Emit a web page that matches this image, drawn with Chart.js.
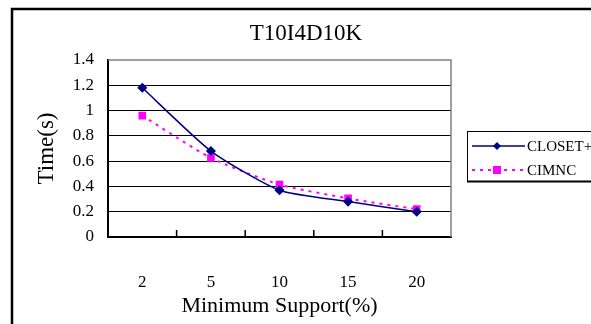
<!DOCTYPE html>
<html>
<head>
<meta charset="utf-8">
<script src="https://cdn.jsdelivr.net/npm/chart.js@4/dist/chart.umd.min.js"></script>
<style>
  html, body { margin: 0; padding: 0; background: #fff; }
  canvas { display: block; }
</style>
</head>
<body>
<canvas id="chart" width="591" height="324"></canvas>
<script>
// data
const supportLabels = ["2", "5", "10", "15", "20"];
const closetTimes = [1.18, 0.68, 0.37, 0.28, 0.2];
const cimncTimes = [0.96, 0.625, 0.415, 0.305, 0.22];
const seriesNames = ["CLOSET+", "CIMNC"];

const SERIF = "'Liberation Serif', 'DejaVu Serif', serif";

// frame, plot border, inner ticks, title and boxed legend
const decorPlugin = {
  id: "decor",
  afterDraw(chart) {
    const ctx = chart.ctx;
    const area = chart.chartArea;
    const x = chart.scales.x;
    ctx.save();

    // outer frame (runs off the right and bottom edges)
    ctx.strokeStyle = "#000";
    ctx.lineWidth = 2.5;
    ctx.strokeRect(12, 9, 620, 340);

    // grey top + right edge of the plot
    ctx.strokeStyle = "#808080";
    ctx.lineWidth = 1.5;
    ctx.beginPath();
    ctx.moveTo(area.left, area.top);
    ctx.lineTo(area.right, area.top);
    ctx.lineTo(area.right, area.bottom);
    ctx.stroke();

    // small ticks between categories, pointing up into the plot
    ctx.strokeStyle = "#000";
    ctx.lineWidth = 1.5;
    ctx.beginPath();
    for (let i = 0; i < supportLabels.length - 1; i++) {
      const px = (x.getPixelForValue(i) + x.getPixelForValue(i + 1)) / 2;
      ctx.moveTo(px, area.bottom);
      ctx.lineTo(px, area.bottom - 7);
    }
    ctx.stroke();

    // title
    ctx.fillStyle = "#000";
    ctx.font = "23px " + SERIF;
    ctx.textAlign = "center";
    ctx.textBaseline = "middle";
    ctx.fillText("T10I4D10K", 306, 34);

    // legend box
    const lx = 467, ly = 131, lw = 130, lh = 50;
    ctx.fillStyle = "#fff";
    ctx.fillRect(lx, ly, lw, lh);
    ctx.strokeStyle = "#000";
    ctx.lineWidth = 1;
    ctx.strokeRect(lx + 0.5, ly + 0.5, lw, lh);
    ctx.lineWidth = 2;
    ctx.beginPath();
    ctx.moveTo(lx, ly + lh + 0.5);
    ctx.lineTo(lx + lw, ly + lh + 0.5);
    ctx.stroke();

    chart.data.datasets.forEach((ds, i) => {
      const ry = [146, 170][i];
      ctx.strokeStyle = ds.borderColor;
      ctx.lineWidth = ds.borderWidth;
      ctx.setLineDash(ds.borderDash || []);
      ctx.beginPath();
      ctx.moveTo(472, ry);
      ctx.lineTo(525, ry);
      ctx.stroke();
      ctx.setLineDash([]);
      ctx.fillStyle = ds.pointBackgroundColor;
      if (ds.pointStyle === "rectRot") {
        ctx.beginPath();
        ctx.moveTo(497, ry - 4);
        ctx.lineTo(501, ry);
        ctx.lineTo(497, ry + 4);
        ctx.lineTo(493, ry);
        ctx.closePath();
        ctx.fill();
      } else {
        ctx.fillRect(493, ry - 4, 8, 8);
      }
      ctx.fillStyle = "#000";
      ctx.font = "15px " + SERIF;
      ctx.textAlign = "left";
      ctx.fillText(ds.label, 527, ry + 1);
    });

    ctx.restore();
  },
};

new Chart(document.getElementById("chart"), {
  type: "line",
  data: {
    labels: supportLabels,
    datasets: [
      {
        label: seriesNames[0],
        data: closetTimes,
        borderColor: "#000080",
        backgroundColor: "#000080",
        pointBackgroundColor: "#000080",
        pointBorderColor: "#000080",
        borderWidth: 1.5,
        pointStyle: "rectRot",
        pointRadius: 4,
        tension: 0.2,
      },
      {
        label: seriesNames[1],
        data: cimncTimes,
        borderColor: "#ff00ff",
        backgroundColor: "#ff00ff",
        pointBackgroundColor: "#ff00ff",
        pointBorderColor: "#ff00ff",
        borderWidth: 2,
        borderDash: [3, 5],
        pointStyle: "rect",
        pointRadius: 4,
        tension: 0.2,
      },
    ],
  },
  options: {
    responsive: false,
    animation: false,
    devicePixelRatio: 1,
    layout: { padding: { left: 28, right: 140, top: 60, bottom: 0 } },
    plugins: {
      legend: { display: false },
      title: { display: false },
      tooltip: { enabled: false },
    },
    scales: {
      x: {
        offset: true,
        grid: { display: false },
        border: { color: "#000", width: 2 },
        ticks: { color: "#000", font: { family: SERIF, size: 17 }, padding: 27 },
        title: {
          display: true,
          text: "Minimum Support(%)",
          color: "#000",
          font: { family: SERIF, size: 22 },
          padding: { top: 0, bottom: 5 },
        },
        afterFit: (s) => { s.height = 87; },
      },
      y: {
        min: 0,
        max: 1.4,
        ticks: {
          stepSize: 0.2,
          color: "#000",
          font: { family: SERIF, size: 17 },
          padding: 14,
          callback: (v) => String(Math.round(v * 10) / 10),
        },
        grid: {
          drawTicks: false,
          color: (c) => (c.tick && c.tick.value >= 1.4 ? "rgba(0,0,0,0)" : "#000"),
          lineWidth: 1,
        },
        border: { color: "#000", width: 2 },
        title: {
          display: true,
          text: "Time(s)",
          color: "#000",
          font: { family: SERIF, size: 23 },
          padding: { top: 5, bottom: 0 },
        },
        afterFit: (s) => { s.width = 80; },
      },
    },
  },
  plugins: [decorPlugin],
});
</script>
</body>
</html>
